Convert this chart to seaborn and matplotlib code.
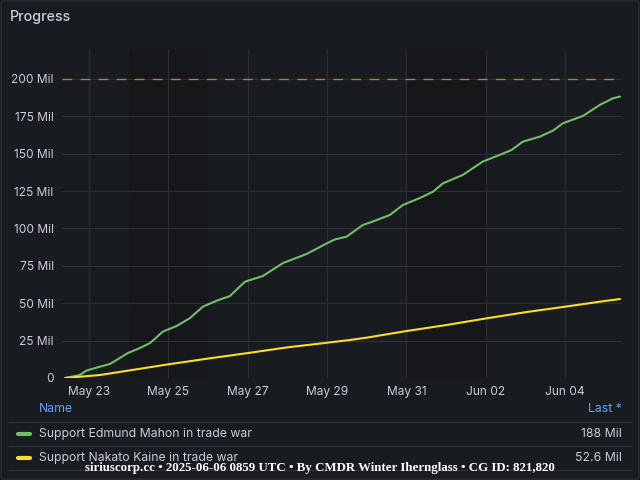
import numpy as np
import pandas as pd
import seaborn as sns
import matplotlib.pyplot as plt
import matplotlib.dates as mdates
from matplotlib.patches import FancyBboxPatch

# days after 2025-05-22 00:00 and values in millions
green_days = [0.40, 0.77, 0.94, 1.28, 1.53, 1.78, 1.98, 2.28, 2.54, 2.86, 3.21, 3.54,
              3.87, 4.22, 4.55, 4.93, 5.38, 5.89, 6.48, 6.99, 7.20, 7.49, 7.90, 8.15,
              8.58, 8.91, 9.34, 9.67, 9.92, 10.42, 10.92, 11.35, 11.65, 11.93, 12.36,
              12.69, 12.94, 13.45, 13.87, 14.20, 14.38]
green_vals = [0, 2, 5, 7.6, 9.4, 13.4, 16.7, 20, 23.4, 31, 34.8, 40,
              47.7, 51.7, 54.8, 64.4, 68.2, 76.9, 82.9, 90, 92.7, 94.5, 102.3, 104.6,
              109, 115.7, 120.4, 124.6, 130.2, 135.8, 144.7, 149.2, 152.5, 158, 161.4,
              165.4, 170.3, 175.3, 182.6, 187, 188.2]

yellow_days = [0.40, 1.28, 2.99, 4.0, 5.06, 6.0, 7.07, 7.57, 8.0, 9.0, 10.0, 11.02,
               12.0, 13.0, 14.0, 14.38]
yellow_vals = [0, 2, 9.1, 13, 16.9, 20.5, 23.8, 25.4, 27, 31.4, 35.4, 39.9,
               44, 47.7, 51.5, 52.8]

names = ["Support Edmund Mahon in trade war", "Support Nakato Kaine in trade war"]
last_labels = ["188 Mil", "52.6 Mil"]
colors = ["#73bf69", "#fade2a"]
weekends = [("2025-05-24", "2025-05-26"), ("2025-05-31", "2025-06-02")]
threshold = 200
footer = "siriuscorp.cc • 2025-06-06 0859 UTC • By CMDR Winter Iherngl" + "ass • CG ID: 821,820"

start = pd.Timestamp("2025-05-22")
df = pd.concat([
    pd.DataFrame({"time": start + pd.to_timedelta(green_days, unit="D"),
                  "value": green_vals, "series": names[0]}),
    pd.DataFrame({"time": start + pd.to_timedelta(yellow_days, unit="D"),
                  "value": yellow_vals, "series": names[1]}),
])

bg = "#181b1f"
txt = "#ccccdc"
grid = "#2c2f34"

sns.set_style("dark")
plt.rcParams["font.family"] = ["Inter", "DejaVu Sans"]

fig = plt.figure(figsize=(6.4, 4.8), dpi=100, facecolor=bg)
fig.patches.append(FancyBboxPatch((0.002, 0.002), 0.996, 0.996, boxstyle="round,pad=0,rounding_size=0.005",
                                  transform=fig.transFigure, facecolor="none", edgecolor="#2a2d32", lw=1))
ax = fig.add_axes([62 / 640, 1 - 378 / 480, 560 / 640, 329 / 480])
ax.set_facecolor(bg)

for a, b in weekends:
    ax.axvspan(pd.Timestamp(a), pd.Timestamp(b), color="#15171a", zorder=0, lw=0)

sns.lineplot(data=df, x="time", y="value", hue="series", palette=colors, lw=1.5,
             legend=False, ax=ax, zorder=3)
ax.axhline(threshold, color="#d2a634", lw=1, dashes=(7, 6), alpha=0.75, zorder=2)

ax.set_xlim(start + pd.Timedelta(days=0.32), start + pd.Timedelta(days=14.43))
ax.set_ylim(0, 220)
ax.set_yticks(np.arange(0, 201, 25))
ax.set_yticklabels(["0"] + [f"{v} Mil" for v in range(25, 201, 25)])
ax.xaxis.set_major_locator(mdates.DayLocator(bymonthday=[23, 25, 27, 29, 31, 2, 4]))
ax.xaxis.set_major_formatter(mdates.DateFormatter("%b %d"))
ax.grid(True, color=grid, lw=0.8)
for s in ax.spines.values():
    s.set_visible(False)
ax.tick_params(colors=txt, labelsize=8.6, length=0, pad=6)
ax.set_xlabel("")
ax.set_ylabel("")

fig.text(10 / 640, 1 - 17 / 480, "Progress", color=txt, fontsize=10.3, va="center", fontweight="medium")

# legend table
fig.text(39 / 640, 1 - 409 / 480, "Name", color="#6e9fff", fontsize=8.8, va="center")
fig.text(622 / 640, 1 - 409 / 480, "Last *", color="#6e9fff", fontsize=8.8, va="center", ha="right")
for yy in [422, 446, 470]:
    fig.add_artist(plt.Line2D([9 / 640, 631 / 640], [1 - yy / 480] * 2, color="#2c2f34", lw=1))
for i, (n, l, c) in enumerate(zip(names, last_labels, colors)):
    yy = 1 - (434 + 24 * i) / 480
    fig.add_artist(plt.Line2D([18 / 640, 30 / 640], [yy, yy], color=c, lw=3, solid_capstyle="round"))
    fig.text(39 / 640, yy, n, color=txt, fontsize=8.8, va="center")
    fig.text(622 / 640, yy, l, color=txt, fontsize=8.8, va="center", ha="right")

fig.text(320 / 640, 1 - 468 / 480, footer, color="white", fontsize=9.3, fontweight="bold",
         family=["Liberation Serif", "DejaVu Serif"], ha="center", va="center")

fig.savefig("out.png", dpi=100, facecolor=bg)
